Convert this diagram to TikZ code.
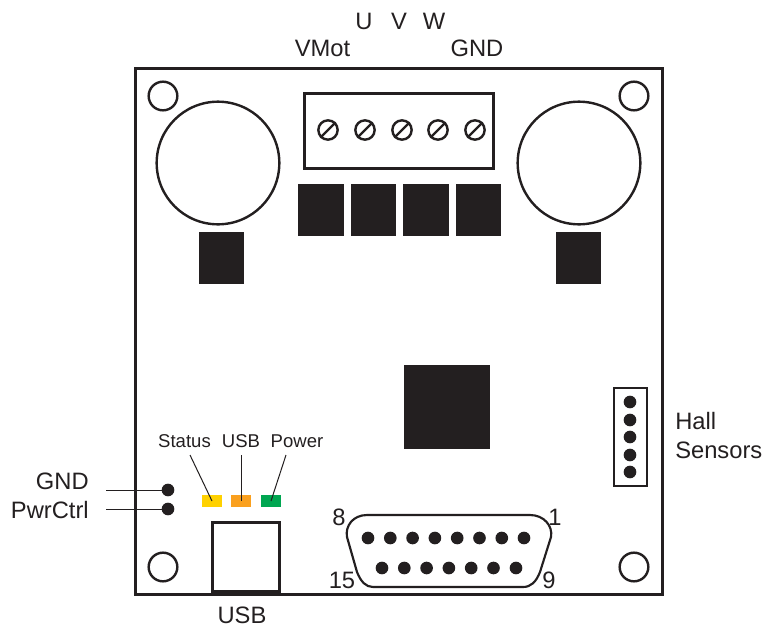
\documentclass[tikz,border=0pt]{standalone}
\usepackage{fontspec}
\setmainfont{Liberation Sans}
\usetikzlibrary{positioning, calc}
\definecolor{cInk}{RGB}{35, 31, 32}
\definecolor{cLedStatus}{RGB}{255, 209, 0}
\definecolor{cLedUsb}{RGB}{250, 160, 30}
\definecolor{cLedPower}{RGB}{0, 166, 81}
\tikzset{
    % --- text ---
    labelBig/.style={font=\fontsize{17.8pt}{21.75pt}\selectfont, text=cInk, inner sep=0pt, anchor=base},
    labelSmall/.style={font=\fontsize{13.9pt}{15pt}\selectfont, text=cInk, inner sep=0pt, anchor=base},
    % --- blocks ---
    outlineBox/.style={rectangle, draw=cInk, fill=white, inner sep=0pt, outer sep=0pt},
    blackBlock/.style={rectangle, fill=cInk, inner sep=0pt, outer sep=0pt},
    ledBox/.style={rectangle, inner sep=0pt, outer sep=0pt, minimum width=15pt, minimum height=9pt},
    % --- round things ---
    holeRing/.style={circle, draw=cInk, line width=1.8pt, fill=white, inner sep=0pt, minimum size=21.5pt},
    bigRing/.style={circle, draw=cInk, line width=1.8pt, fill=white, inner sep=0pt, minimum size=92pt},
    screwRing/.style={circle, draw=cInk, line width=1.8pt, fill=white, inner sep=0pt, minimum size=14.5pt},
    pinDot/.style={circle, fill=cInk, inner sep=0pt, outer sep=0pt, minimum size=9.5pt},
    % --- lines ---
    leader/.style={draw=cInk, line width=0.75pt}
}
\begin{document}
\begin{tikzpicture}[x=0.75pt, y=-0.75pt]
	\useasboundingbox (0,0) rectangle (765,629);

	% --- board ---
	\node [outlineBox, line width=2.2pt, minimum width=395pt, minimum height=394.5pt] (board) at (399,331.5) {};

	% --- mounting holes ---
	\node [holeRing] (hole1) at (163,96) {};
	\node [holeRing] (hole2) at (634,96) {};
	\node [holeRing] (hole3) at (163,567) {};
	\node [holeRing] (hole4) at (634,567) {};

	% --- capacitors ---
	\node [bigRing] (capL) at (218,163) {};
	\node [bigRing] (capR) at (579,163) {};
	\node [blackBlock, minimum width=34pt, minimum height=39pt] (fuseL) at (221.5,258) {};
	\node [blackBlock, minimum width=34pt, minimum height=39pt] (fuseR) at (578.5,258) {};

	% --- motor terminal ---
	\node [outlineBox, line width=1.9pt, minimum width=141.5pt, minimum height=56pt] (term) at (399,131) {};
	\foreach \i/\x in {1/328,2/365,3/402,4/438,5/475} {
			\node [screwRing] (screw\i) at (\x,130) {};
			\draw [cInk, line width=1.8pt] (screw\i.south west) -- (screw\i.north east);
		}

	% --- power stage ---
	\foreach \i/\x in {1/321,2/373.5,3/426,4/478.5} {
			\node [blackBlock, minimum width=34pt, minimum height=39pt] (fet\i) at (\x,210) {};
		}
	\node [blackBlock, minimum width=64.5pt, minimum height=63pt] (mcu) at (447,407) {};

	% --- hall connector ---
	\node [outlineBox, line width=1.9pt, minimum width=25pt, minimum height=73.5pt] (hall) at (630.5,437) {};
	\foreach \i/\y in {1/402,2/420,3/437,4/455,5/472} {
			\node [pinDot] (hallPin\i) at (630,\y) {};
		}

	% --- LEDs and USB socket ---
	\node [ledBox, fill=cLedStatus] (ledStatus) at (212,501) {};
	\node [ledBox, fill=cLedUsb] (ledUsb) at (241,501) {};
	\node [ledBox, fill=cLedPower] (ledPower) at (271,501) {};
	\node [outlineBox, line width=1.9pt, minimum width=50pt, minimum height=51.5pt] (usbBox) at (246,557) {};

	% --- sub-D connector ---
	\draw [cInk, line width=1.6pt, fill=white] (367,515) -- (530,515)
		.. controls (544,515) and (553,526) .. (551,537)
		-- (540,572) .. controls (536,582) and (531,587) .. (523,587)
		-- (373,587) .. controls (366,587) and (361,582) .. (357,572)
		-- (347,537) .. controls (345,526) and (353,515) .. (367,515) -- cycle;
	\foreach \i/\x in {1/368,2/390.3,3/412.6,4/434.9,5/457.2,6/479.5,7/501.8,8/524} {
			\node [pinDot] (subTop\i) at (\x,538) {};
		}
	\foreach \i/\x in {1/382,2/404.3,3/426.6,4/448.9,5/471.2,6/493.5,7/516} {
			\node [pinDot] (subBot\i) at (\x,568) {};
		}

	% --- power pads ---
	\node [pinDot] (padGnd) at (168,490) {};
	\node [pinDot] (padCtrl) at (168,509) {};
	\coordinate (endGnd) at (106,490);
	\coordinate (endCtrl) at (106,509);
	\draw [leader] (endGnd) -- (padGnd);
	\draw [leader] (endCtrl) -- (padCtrl);

	% --- labels ---
	\node [labelBig] (lblU) at (364,29) {U};
	\node [labelBig] (lblV) at (399,29) {V};
	\node [labelBig] (lblW) at (434,29) {W};
	\node [labelBig] (lblVMot) at (322.5,56) {VMot};
	\node [labelBig] (lblGndTop) at (477,56) {GND};
	\node [labelBig, anchor=base east] (lblGnd) at (89,489) {GND};
	\node [labelBig, anchor=base east] (lblCtrl) at (89,518) {PwrCtrl};
	\node [labelBig] (lblUsb) at (242,623) {USB};
	\node [labelBig, anchor=west, align=left] (lblHall) at (675,435.5) {Hall\\Sensors};
	\node [labelBig] (lbl8) at (339,525) {8};
	\node [labelBig] (lbl1) at (555,525) {1};
	\node [labelBig] (lbl15) at (342,588) {15};
	\node [labelBig] (lbl9) at (549,588) {9};
	\node [labelSmall] (lblStatus) at (184.5,447) {Status};
	\node [labelSmall] (lblLedUsb) at (241,447) {USB};
	\node [labelSmall] (lblPower) at (297,447) {Power};

	% --- LED leaders ---
	\coordinate (topStatus) at (190,455);
	\coordinate (topUsb) at (241,455);
	\coordinate (topPower) at (286,455);
	\draw [leader] (topStatus) -- (ledStatus.center);
	\draw [leader] (topUsb) -- (ledUsb.center);
	\draw [leader] (topPower) -- (ledPower.center);

\end{tikzpicture}
\end{document}
